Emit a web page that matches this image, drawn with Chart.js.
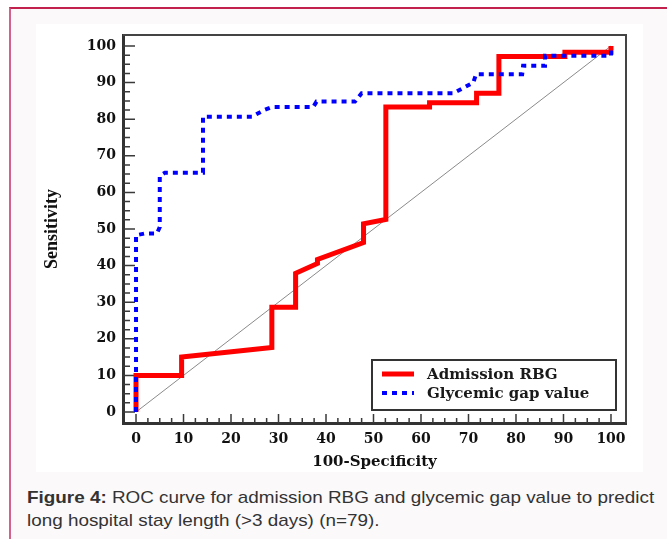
<!DOCTYPE html>
<html>
<head>
<meta charset="utf-8">
<script src="https://cdn.jsdelivr.net/npm/chart.js@4/dist/chart.umd.min.js"></script>
<style>
html,body{margin:0;padding:0;background:#ffffff;}
body{width:667px;height:539px;position:relative;overflow:hidden;}
#frame{position:absolute;left:9px;top:7px;right:0;bottom:0;background:#fcf9fa;border-left:2px solid #d3618a;border-top:2px solid #c2214e;}
#box{position:absolute;left:36px;top:24px;width:607px;height:448px;background:#ffffff;}
#caption{position:absolute;left:27px;top:486px;font-family:"Liberation Sans",Arial,sans-serif;font-size:17px;line-height:23px;color:#333;white-space:nowrap;transform:scaleX(1.11);transform-origin:0 0;}
</style>
</head>
<body>
<div id="frame"></div>
<div id="box"><canvas id="c" width="607" height="448"></canvas></div>
<div id="caption"><b>Figure 4:</b> ROC curve for admission RBG and glycemic gap value to predict<br>long hospital stay length (&gt;3 days) (n=79).</div>
<script>
// ---- data ----
const seriesNames = ['Admission RBG', 'Glycemic gap value'];
const rbgX = [0, 0, 9.6, 9.6, 28.6, 28.6, 33.6, 33.6, 38.2, 38.2, 47.9, 47.9, 52.6, 52.6, 61.8, 61.8, 71.7, 71.7, 76.4, 76.4, 90.3, 90.3, 100, 100];
const rbgY = [0, 10, 10, 15, 17.6, 28.6, 28.6, 37.9, 40.6, 41.7, 46.3, 51.4, 52.6, 83.3, 83.3, 84.5, 84.5, 87.1, 87.1, 97.1, 97.1, 98.3, 98.3, 100];
const gapX = [0, 0, 1.9, 4.4, 5.0, 5.0, 6.1, 14.1, 14.1, 24.4, 27.0, 28.6, 37.3, 38.0, 46.1, 47.5, 66.8, 69.0, 71.0, 71.6, 81.3, 81.5, 86.1, 86.1, 100, 100];
const gapY = [0, 48.3, 48.8, 48.8, 50.5, 64.5, 65.4, 65.4, 80.7, 80.7, 82.5, 83.3, 83.3, 84.8, 84.8, 87.1, 87.1, 88.6, 90.0, 92.3, 92.3, 94.6, 94.6, 97.3, 97.3, 100];
const refX = [0, 100];
const refY = [0, 100];
const tickValues = [0, 10, 20, 30, 40, 50, 60, 70, 80, 90, 100];
const xTitle = '100-Specificity';
const yTitle = 'Sensitivity';

const pts = (xs, ys) => xs.map((x, i) => ({x: x, y: ys[i]}));

const frameAndTicks = {
  id: 'frameAndTicks',
  beforeDatasetsDraw(chart) {
    const ctx = chart.ctx, a = chart.chartArea;
    const xs = chart.scales.x, ys = chart.scales.y;
    ctx.save();
    ctx.strokeStyle = '#3a3a3a';
    ctx.lineWidth = 1.5;
    ctx.beginPath();
    for (let v = 0; v <= 100; v += 2.5) {
      const major = v % 10 === 0;
      const py = ys.getPixelForValue(v);
      ctx.moveTo(a.left, py); ctx.lineTo(a.left + (major ? 12 : 7), py);
      const px = xs.getPixelForValue(v);
      ctx.moveTo(px, a.bottom); ctx.lineTo(px, a.bottom - (major ? 9 : 5));
    }
    ctx.stroke();
    ctx.lineWidth = 2;
    ctx.strokeStyle = '#444';
    ctx.beginPath();
    ctx.moveTo(a.left, a.top); ctx.lineTo(a.right, a.top); ctx.lineTo(a.right, a.bottom);
    ctx.stroke();
    ctx.restore();
  }
};

const boxLegend = {
  id: 'boxLegend',
  afterDatasetsDraw(chart) {
    const ctx = chart.ctx, a = chart.chartArea;
    const w = 244, h = 50;
    const x = a.right - 10 - w, y = a.bottom - 13 - h;
    ctx.save();
    ctx.fillStyle = '#ffffff';
    ctx.fillRect(x, y, w, h);
    ctx.lineWidth = 2;
    ctx.strokeStyle = '#333';
    ctx.strokeRect(x, y, w, h);
    const items = chart.data.datasets.filter(d => seriesNames.includes(d.label))
      .sort((p, q) => seriesNames.indexOf(p.label) - seriesNames.indexOf(q.label));
    items.forEach((d, i) => {
      const cy = y + 14 + i * 19;
      ctx.beginPath();
      ctx.strokeStyle = d.borderColor;
      ctx.lineWidth = d.borderWidth;
      ctx.setLineDash(d.borderDash || []);
      ctx.lineCap = 'butt';
      ctx.moveTo(x + 10, cy); ctx.lineTo(x + 42, cy);
      ctx.stroke();
      ctx.setLineDash([]);
      ctx.fillStyle = '#1a1a1a';
      ctx.font = 'bold 15px "DejaVu Serif"';
      ctx.textBaseline = 'middle';
      ctx.textAlign = 'left';
      ctx.fillText(d.label, x + 55, cy + 1);
    });
    ctx.restore();
  }
};

Chart.defaults.font.family = '"DejaVu Serif", serif';

new Chart(document.getElementById('c'), {
  type: 'scatter',
  data: {
    datasets: [
      {label: 'reference', data: pts(refX, refY), showLine: true, borderColor: '#8a8a8a', borderWidth: 1, pointRadius: 0, order: 2},
      {label: seriesNames[0], data: pts(rbgX, rbgY), showLine: true, borderColor: '#ff0000', borderWidth: 5, pointRadius: 0, borderJoinStyle: 'miter', order: 1},
      {label: seriesNames[1], data: pts(gapX, gapY), showLine: true, borderColor: '#0000ff', borderWidth: 4, borderDash: [5, 5], borderCapStyle: 'butt', pointRadius: 0, order: 0}
    ]
  },
  options: {
    responsive: false,
    animation: false,
    layout: {padding: {top: 11, right: 17, left: 0, bottom: 0}},
    plugins: {legend: {display: false}, tooltip: {enabled: false}},
    scales: {
      x: {
        type: 'linear', min: -2.74, max: 103.16,
        afterBuildTicks: s => { s.ticks = tickValues.map(v => ({value: v})); },
        afterFit: s => { s.height = 49; s.paddingLeft = 0; s.paddingRight = 0; },
        grid: {display: false, drawTicks: false},
        border: {display: true, width: 3, color: '#333'},
        ticks: {padding: 8, color: '#111', autoSkip: false, maxRotation: 0, font: {weight: 'bold', size: 14}},
        title: {display: true, text: xTitle, color: '#111', font: {weight: 'bold', size: 15}, padding: {top: 0, bottom: 1}}
      },
      y: {
        type: 'linear', min: -3.0, max: 103.0,
        afterBuildTicks: s => { s.ticks = tickValues.map(v => ({value: v})); },
        afterFit: s => { s.width = 87; s.paddingTop = 0; s.paddingBottom = 0; },
        grid: {display: false, drawTicks: false},
        border: {display: true, width: 3, color: '#333'},
        ticks: {padding: 7, color: '#111', autoSkip: false, font: {weight: 'bold', size: 14}},
        title: {display: true, text: yTitle, color: '#111', font: {family: '"Liberation Serif", serif', weight: 'bold', size: 18}, padding: {top: 6, bottom: 0}}
      }
    }
  },
  plugins: [frameAndTicks, boxLegend]
});
</script>
</body>
</html>
